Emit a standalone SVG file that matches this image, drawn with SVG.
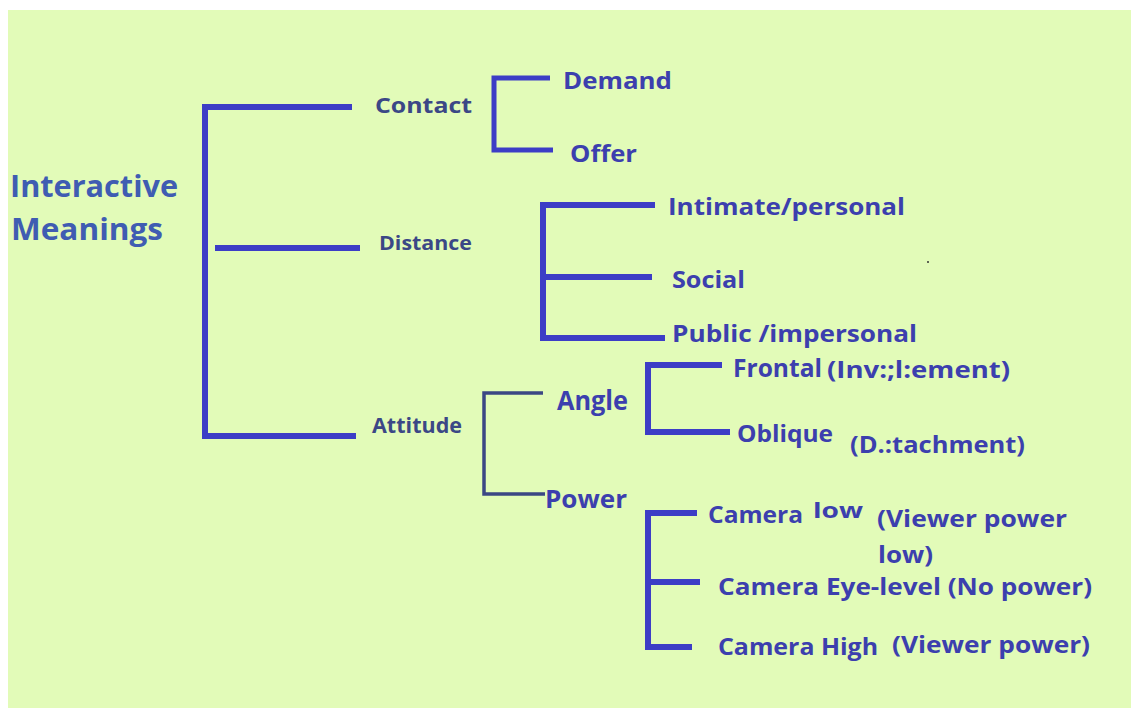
<svg xmlns="http://www.w3.org/2000/svg" width="1131" height="708" viewBox="0 0 1131 708">
<style>
.t{font-family:"Open Sans","Liberation Sans",sans-serif;font-weight:700;fill:#3c3fae}
.d{fill:#3b4786}
.title{fill:#3f5cb2}
.ln{fill:none;stroke:#3c3dc6;stroke-width:6;stroke-linecap:butt;stroke-linejoin:miter}
.thin{stroke:#3b4784;stroke-width:3.5}
</style>
<rect x="0" y="0" width="1131" height="708" fill="#ffffff"/>
<rect x="8" y="10" width="1123" height="698" fill="#e2fbb8"/>
<g id="connectors">
<path class="ln" d="M352,107 H205 V436 H356"/>
<path class="ln" d="M215,248 H360"/>
<path class="ln" style="stroke-width:5" d="M550,78 H494 V150 H553"/>
<path class="ln" d="M655,205 H543 V338 H665"/>
<path class="ln" d="M543,277 H652"/>
<path class="ln thin" d="M543,393 H484 V494 H545"/>
<path class="ln" d="M722,365 H648 V432 H730"/>
<path class="ln" d="M697,513 H648 V647 H692"/>
<path class="ln" d="M648,582 H700"/>
</g>
<g id="root"><text class="t title" font-size="30" x="10" y="197" textLength="168" lengthAdjust="spacingAndGlyphs">Interactive</text><text class="t title" font-size="30" x="11" y="240" textLength="152" lengthAdjust="spacingAndGlyphs">Meanings</text></g>
<g id="contact"><text class="t d" font-size="22" x="375" y="113" textLength="97" lengthAdjust="spacingAndGlyphs">Contact</text></g>
<g id="demand"><text class="t" font-size="24" x="563" y="89" textLength="109" lengthAdjust="spacingAndGlyphs">Demand</text></g>
<g id="offer"><text class="t" font-size="24" x="570" y="162" textLength="67" lengthAdjust="spacingAndGlyphs">Offer</text></g>
<g id="distance"><text class="t d" font-size="20" x="379" y="250" textLength="93" lengthAdjust="spacingAndGlyphs">Distance</text></g>
<g id="intimate"><text class="t" font-size="24" x="668" y="215" textLength="237" lengthAdjust="spacingAndGlyphs">Intimate/personal</text></g>
<g id="social"><text class="t" font-size="24" x="672" y="288" textLength="73" lengthAdjust="spacingAndGlyphs">Social</text></g>
<g id="public"><text class="t" font-size="24" x="672" y="342" textLength="245" lengthAdjust="spacingAndGlyphs">Public /impersonal</text></g>
<circle cx="928" cy="262" r="1" fill="#333"/>
<g id="attitude"><text class="t d" font-size="21" x="372" y="433" textLength="90" lengthAdjust="spacingAndGlyphs">Attitude</text></g>
<g id="angle"><text class="t" font-size="26" x="557" y="410" textLength="71" lengthAdjust="spacingAndGlyphs">Angle</text></g>
<g id="power"><text class="t" font-size="25" x="545" y="508" textLength="82" lengthAdjust="spacingAndGlyphs">Power</text></g>
<g id="frontal"><text class="t" font-size="25" x="733" y="377" textLength="89" lengthAdjust="spacingAndGlyphs">Frontal</text><text class="t" font-size="24" x="827" y="378" textLength="183" lengthAdjust="spacingAndGlyphs">(Inv:;l:ement)</text></g>
<g id="oblique"><text class="t" font-size="24" x="737" y="442" textLength="96" lengthAdjust="spacingAndGlyphs">Oblique</text><text class="t" font-size="24" x="850" y="453" textLength="175" lengthAdjust="spacingAndGlyphs">(D.:tachment)</text></g>
<g id="camera-low"><text class="t" font-size="24" x="708" y="523" textLength="95" lengthAdjust="spacingAndGlyphs">Camera</text><text class="t" font-size="22" x="813" y="518" textLength="50" lengthAdjust="spacingAndGlyphs">low</text><text class="t" font-size="24" x="877" y="527" textLength="190" lengthAdjust="spacingAndGlyphs">(Viewer power</text><text class="t" font-size="24" x="878" y="563" textLength="55" lengthAdjust="spacingAndGlyphs">low)</text></g>
<g id="camera-eye"><text class="t" font-size="24" x="718" y="595" textLength="374" lengthAdjust="spacingAndGlyphs">Camera Eye-level (No power)</text></g>
<g id="camera-high"><text class="t" font-size="24" x="718" y="655" textLength="160" lengthAdjust="spacingAndGlyphs">Camera High</text><text class="t" font-size="24" x="892" y="653" textLength="198" lengthAdjust="spacingAndGlyphs">(Viewer power)</text></g>
</svg>
